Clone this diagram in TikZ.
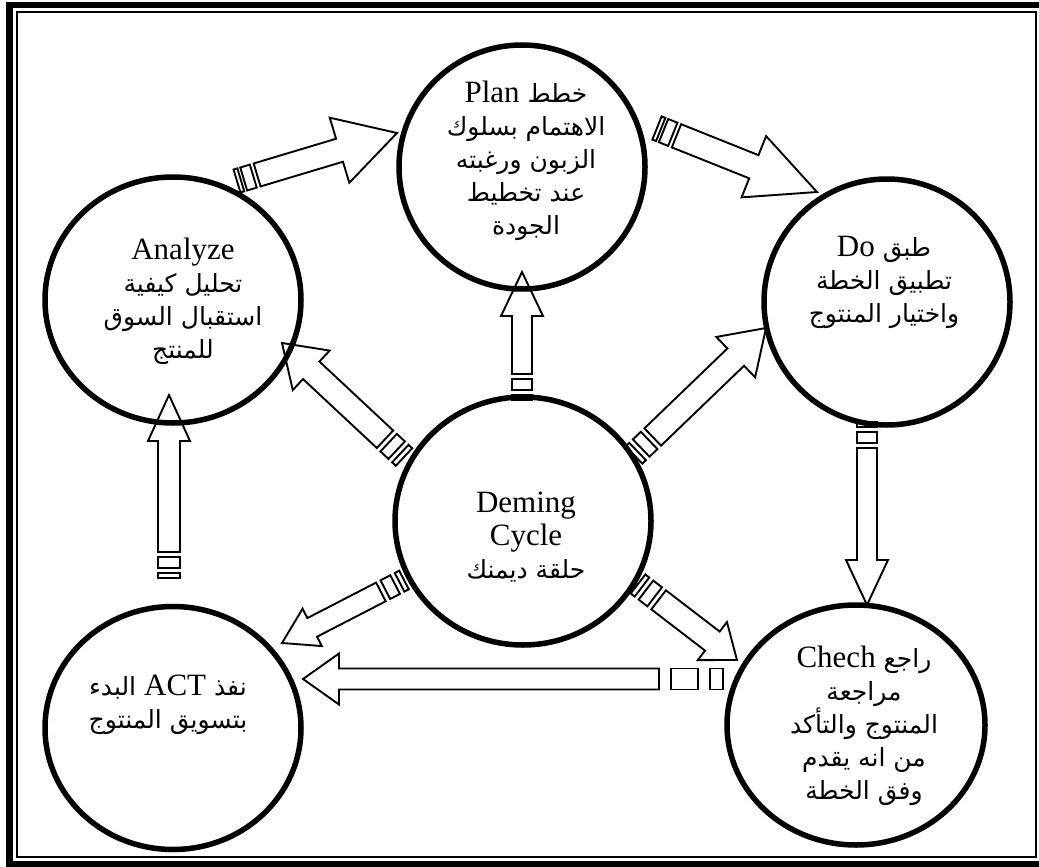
\documentclass[tikz,border=0pt]{standalone}
\usepackage{fontspec}
\setmainfont{Liberation Serif}
\newfontfamily\arabicfont[Script=Arabic]{DejaVu Sans}
\TeXXeTstate=1
\usetikzlibrary{shapes.geometric,calc}
\newcommand{\lat}[1]{{\rmfamily\fontsize{31}{33}\selectfont #1}}
\newcommand{\artext}[1]{{\arabicfont\fontsize{25}{33}\selectfont\beginR #1\endR}}
\tikzset{
  shaft/.store in=\baW,
  headw/.store in=\baHw,
  headl/.store in=\baHl,
  stripes/.code args={#1/#2/#3/#4}{\def\baSa{#1}\def\baGa{#2}\def\baSb{#3}\def\baGb{#4}},
  barrow/.style={shaft=10,headw=21,headl=45,stripes=5/5/11/5},
  bline/.style={draw=black,line width=1.9pt,fill=white,line join=miter},
  cyc/.style={draw,ellipse,line width=5.5pt,inner sep=0pt},
  txt/.style={align=center,inner sep=0pt,font=\fontsize{31}{33}\selectfont},
}
% striped block arrow from tail #2 to tip #3
\makeatletter
\newcommand{\stripearrow}[3][]{%
  \pgfpointdiff{\pgfpointanchor{#2}{center}}{\pgfpointanchor{#3}{center}}%
  \edef\ba@dx{\the\pgf@x}\edef\ba@dy{\the\pgf@y}%
  \pgfmathsetmacro\baLen{veclen(\ba@dx,\ba@dy)}%
  \pgfmathsetmacro\baAng{atan2(\ba@dy,\ba@dx)}%
  \begin{scope}[shift={(#2)},rotate=\baAng,barrow,#1]
    \pgfmathsetmacro\baB{\baSa+\baGa}%
    \pgfmathsetmacro\baC{\baB+\baSb}%
    \pgfmathsetmacro\baD{\baC+\baGb}%
    \pgfmathsetmacro\baE{\baLen-\baHl}%
    \draw[bline] (0,-\baW) -- (\baSa,-\baW) -- (\baSa,\baW) -- (0,\baW) -- cycle;
    \draw[bline] (\baB,-\baW) -- (\baC,-\baW) -- (\baC,\baW) -- (\baB,\baW) -- cycle;
    \draw[bline] (\baD,-\baW) -- (\baE,-\baW) -- (\baE,-\baHw) -- (\baLen,0)
      -- (\baE,\baHw) -- (\baE,\baW) -- (\baD,\baW) -- cycle;
  \end{scope}}
\makeatother

\begin{document}
\begin{tikzpicture}[x=1pt,y=-1pt]
  \useasboundingbox (0,0) rectangle (1039,867);
  % double frame
  \draw[line width=6.5pt] (9.5,5) rectangle (1045,864);
  \draw[line width=1.8pt] (17,12) rectangle (1036,857);

  % arrow ends
  \coordinate (a2pS) at (237,181);   \coordinate (a2pE) at (397,133);
  \coordinate (p2dS) at (657,128);   \coordinate (p2dE) at (817,192);
  \coordinate (d2cS) at (867,422);   \coordinate (d2cE) at (867,605);
  \coordinate (c2aS) at (723,679);   \coordinate (c2aE) at (303,679);
  \coordinate (a2nS) at (169,578);   \coordinate (a2nE) at (169,395);
  \coordinate (m2pS) at (522,400);   \coordinate (m2pE) at (522,272);
  \coordinate (m2nS) at (404,457);   \coordinate (m2nE) at (282,343);
  \coordinate (m2dS) at (634,455);   \coordinate (m2dE) at (766,328);
  \coordinate (m2aS) at (404,580);   \coordinate (m2aE) at (282,643);
  \coordinate (m2cS) at (638,584);   \coordinate (m2cE) at (737,660);

  \stripearrow[shaft=12,headw=34,headl=60,stripes=4/3/10/4]{a2pS}{a2pE}
  \stripearrow[shaft=12.5,headw=33,headl=68,stripes=4/3/10/4]{p2dS}{p2dE}
  \stripearrow[shaft=10,headw=21,headl=45]{d2cS}{d2cE}
  \stripearrow[shaft=10.5,headw=25.5,headl=36,stripes=13/12/27/12]{c2aS}{c2aE}
  \stripearrow[shaft=11,headw=21,headl=46]{a2nS}{a2nE}
  \stripearrow[shaft=10,headw=21,headl=44]{m2pS}{m2pE}
  \stripearrow[shaft=12,headw=27,headl=40]{m2nS}{m2nE}
  \stripearrow[shaft=12,headw=28,headl=42]{m2dS}{m2dE}
  \stripearrow[shaft=10.5,headw=21,headl=34]{m2aS}{m2aE}
  \stripearrow[shaft=12,headw=24,headl=31]{m2cS}{m2cE}

  % stages
  \node[cyc,minimum width=246pt,minimum height=244pt] (plan) at (522,167) {};
  \node[cyc,minimum width=246pt,minimum height=246pt] (do) at (887,302) {};
  \node[cyc,minimum width=256pt,minimum height=246pt] (analyze) at (173,300) {};
  \node[cyc,minimum width=256pt,minimum height=248pt] (deming) at (523,521) {};
  \node[cyc,minimum width=256pt,minimum height=243pt] (act) at (173,728) {};
  \node[cyc,minimum width=258pt,minimum height=240pt] (check) at (856,725) {};

  \node[txt] (plantxt) at ($(plan)+(4,-6)$)
    {\artext{خطط \lat{Plan}}\\\artext{الاهتمام بسلوك}\\\artext{الزبون ورغبته}\\\artext{عند تخطيط}\\\artext{الجودة}};
  \node[txt] (dotxt) at ($(do)+(-3,-20)$)
    {\artext{طبق \lat{Do}}\\\artext{تطبيق الخطة}\\\artext{واختيار المنتوج}};
  \node[txt] (analyzetxt) at ($(analyze)+(10,1)$)
    {Analyze\\\artext{تحليل كيفية}\\\artext{استقبال السوق}\\\artext{للمنتج}};
  \node[txt] (demingtxt) at ($(deming)+(3,16)$)
    {Deming\\Cycle\\\artext{حلقة ديمنك}};
  \node[txt] (acttxt) at ($(act)+(-5,-23)$)
    {\artext{نفذ \lat{ACT} البدء}\\\artext{بتسويق المنتوج}};
  \node[txt] (checktxt) at ($(check)+(8,1)$)
    {\artext{راجع \lat{Chech}}\\\artext{مراجعة}\\\artext{المنتوج والتأكد}\\\artext{من انه يقدم}\\\artext{وفق الخطة}};
\end{tikzpicture}
\end{document}
